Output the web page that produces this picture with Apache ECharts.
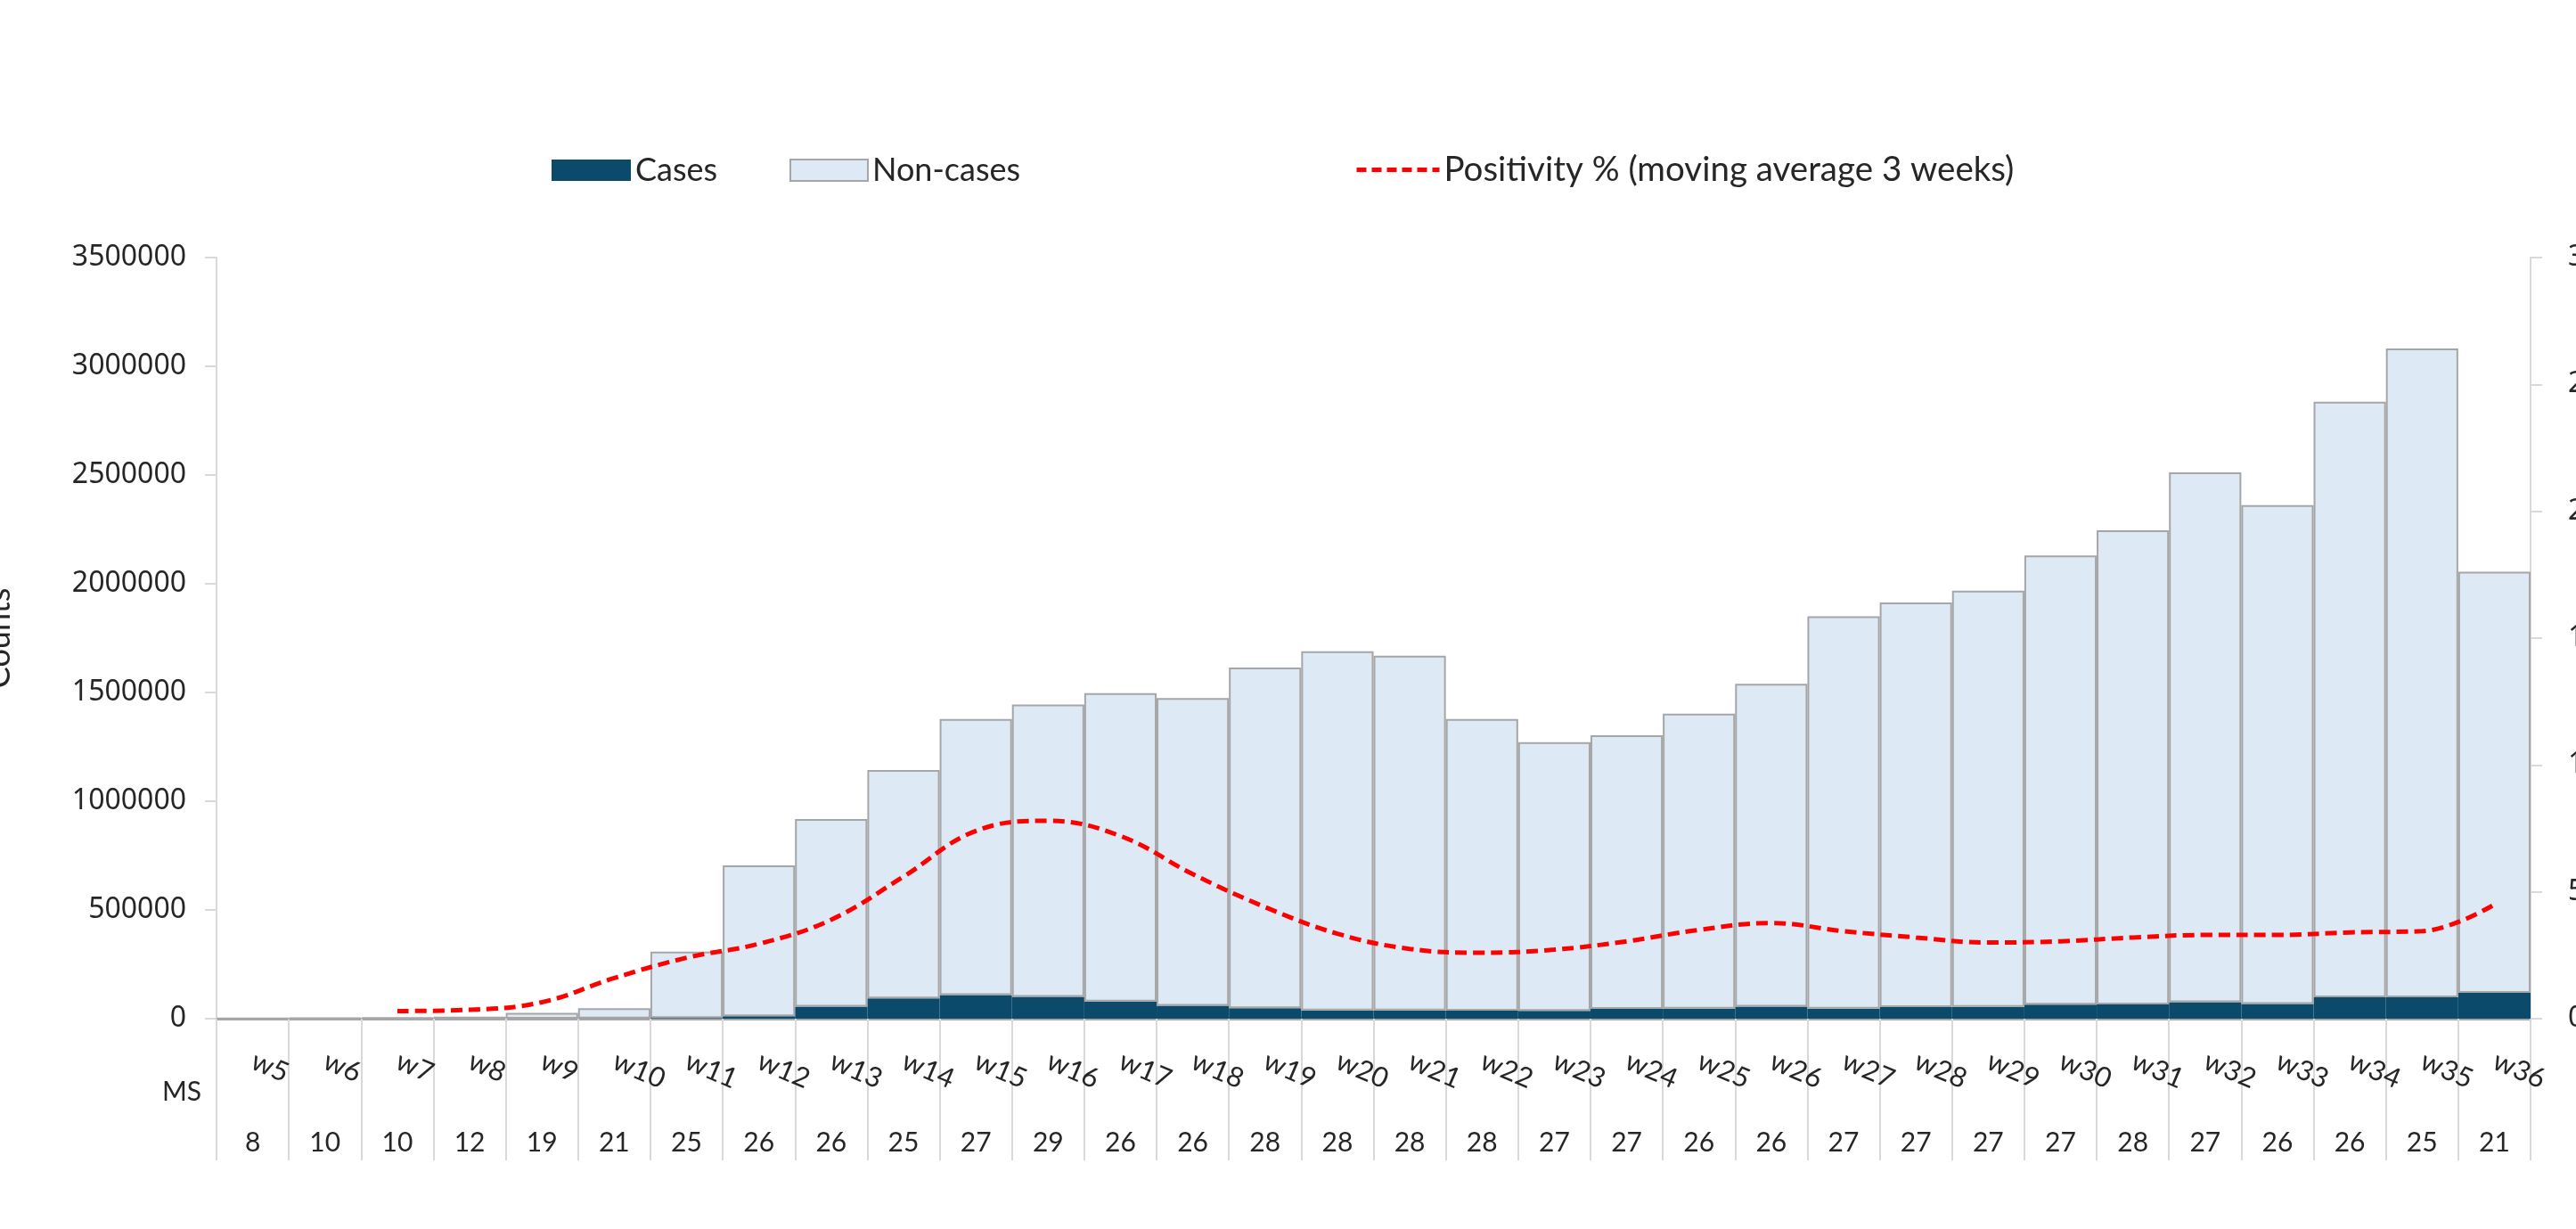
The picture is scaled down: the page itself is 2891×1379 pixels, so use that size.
<!DOCTYPE html>
<html>
<head>
<meta charset="utf-8">
<script src="https://cdn.jsdelivr.net/npm/echarts@6/dist/echarts.min.js"></script>
<style>
html,body{margin:0;padding:0;background:#fff;}
#chart{width:2891px;height:1379px;}
</style>
</head>
<body>
<div id="chart"></div>
<script>
const weeks = ['w5','w6','w7','w8','w9','w10','w11','w12','w13','w14','w15','w16','w17','w18','w19','w20','w21','w22','w23','w24','w25','w26','w27','w28','w29','w30','w31','w32','w33','w34','w35','w36'];
const msCounts = [8,10,10,12,19,21,25,26,26,25,27,29,26,26,28,28,28,28,27,27,26,26,27,27,27,27,28,27,26,26,25,21];
const cases = [0,0,0,0,500,1000,3000,11000,55000,93000,109000,100000,79000,59000,48000,38000,38000,37000,36000,45000,46000,55000,46000,53000,54000,65000,66000,76000,68000,98000,98000,119000];
const nonCases = [3000,4000,6000,9000,26500,47000,305000,694000,863000,1050000,1269000,1345000,1418000,1415000,1567000,1652000,1631000,1341000,1236000,1258000,1357000,1485000,1804000,1861000,1914000,2065000,2180000,2436000,2294000,2739000,2984000,1936000];
const positivity = [null,null,0.3,0.35,0.65,1.6,2.4,2.95,3.9,5.6,7.4,7.8,7.2,5.7,4.4,3.35,2.75,2.6,2.72,3.05,3.5,3.77,3.45,3.2,3.0,3.05,3.2,3.3,3.3,3.4,3.45,4.5];
const leftTicks = {min:0, max:3500000, interval:500000};
const rightTicks = {min:0, max:30, interval:5};

const chart = echarts.init(document.getElementById('chart'));
const txt = '#262626';
const legendText = {fontFamily:'Lato', fontSize:36, color:txt};
const lineStyle = {color:'#ff0000', width:5, type:[13,7]};
chart.setOption({
  animation:false,
  backgroundColor:'#fff',
  grid:{left:243, right:51, top:289, bottom:236, containLabel:false, outerBoundsMode:'none'},
  legend:[
    {data:[{name:'Cases', icon:'rect'}], left:614, top:168, itemWidth:89, itemHeight:24, itemGap:0, textStyle:legendText},
    {data:[{name:'Non-cases', icon:'rect'}], left:881, top:168, itemWidth:87, itemHeight:24, itemGap:0, textStyle:legendText},
    {data:['Positivity % (moving average 3 weeks)'], left:1515, top:166, itemWidth:93, itemHeight:24, itemGap:0,
     itemStyle:{opacity:0}, lineStyle:{color:'#ff0000', width:5, type:[11,6]},
     textStyle:{fontFamily:'Lato', fontSize:38.5, color:txt}}
  ],
  xAxis:[
    {type:'category', data:weeks, boundaryGap:true,
     axisLine:{show:true, lineStyle:{color:'#a6a6a6', width:3}},
     axisTick:{show:true, inside:false, length:159, lineStyle:{color:'#d9d9d9', width:2}},
     axisLabel:{rotate:-23, margin:46, fontFamily:'Lato', fontSize:31, color:txt, interval:0}},
    {type:'category', data:msCounts, position:'bottom', boundaryGap:true,
     axisLine:{show:false}, axisTick:{show:false},
     axisLabel:{margin:124, fontFamily:'Lato', fontSize:30, color:txt, interval:0}}
  ],
  yAxis:[
    {type:'value', min:leftTicks.min, max:leftTicks.max, interval:leftTicks.interval,
     name:'Counts', nameLocation:'middle', nameGap:226, nameRotate:90, nameMoveOverlap:false,
     nameTextStyle:{fontFamily:'Lato', fontSize:36, color:txt},
     splitLine:{show:false},
     axisLine:{show:true, lineStyle:{color:'#d9d9d9', width:2}},
     axisTick:{show:true, length:13, lineStyle:{color:'#d9d9d9', width:2}},
     axisLabel:{margin:34, fontFamily:'Noto Sans', fontSize:32, color:txt, formatter:v => String(v)}},
    {type:'value', min:rightTicks.min, max:rightTicks.max, interval:rightTicks.interval, position:'right',
     splitLine:{show:false},
     axisLine:{show:true, lineStyle:{color:'#d9d9d9', width:2}},
     axisTick:{show:true, length:13, lineStyle:{color:'#d9d9d9', width:2}},
     axisLabel:{margin:42, fontFamily:'Noto Sans', fontSize:32, color:txt, formatter:v => String(v)}}
  ],
  graphic:[
    {type:'text', left:182, top:1210, style:{text:'MS', fontFamily:'Lato', fontSize:30, fill:txt}}
  ],
  series:[
    {name:'Cases', type:'bar', stack:'t', data:cases, barCategoryGap:'0%',
     itemStyle:{color:'#0b4a6b'}},
    {name:'Non-cases', type:'bar', stack:'t', data:nonCases, barCategoryGap:'0%',
     itemStyle:{color:'#dde9f5', borderColor:'#a6a6a6', borderWidth:2}},
    {name:'Positivity % (moving average 3 weeks)', type:'line', yAxisIndex:1, data:positivity,
     smooth:0.4, symbol:'none', showSymbol:false, connectNulls:false,
     lineStyle:lineStyle, itemStyle:{color:'#ff0000'}, z:5}
  ]
});
</script>
</body>
</html>
